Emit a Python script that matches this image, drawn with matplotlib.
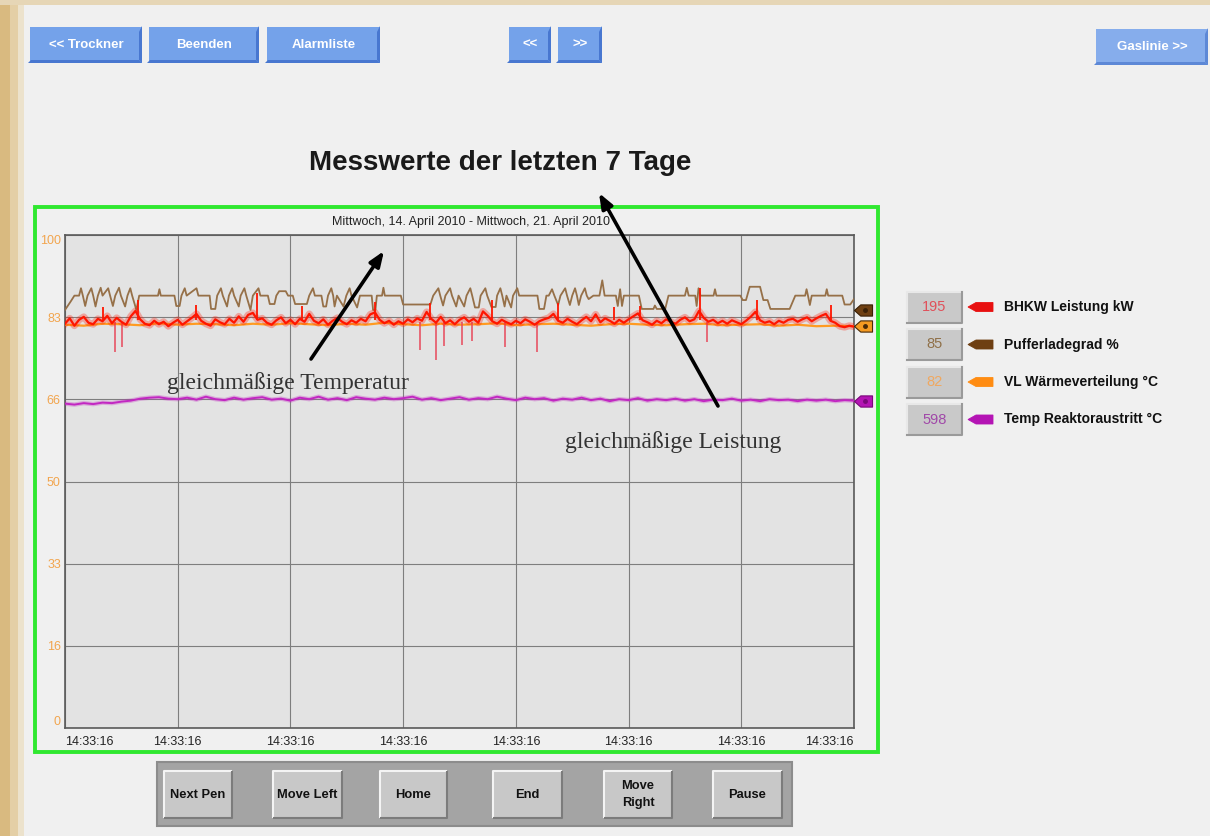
#!/usr/bin/env python3
"""Trend screen: Messwerte der letzten 7 Tage (BHKW / Puffer / VL / Reaktor)."""
import matplotlib
matplotlib.use("Agg")
import matplotlib.pyplot as plt  # noqa: E402
import numpy as np  # noqa: E402
from matplotlib.patches import Polygon, Rectangle  # noqa: E402
from matplotlib.path import Path  # noqa: E402

plt.rcParams["font.family"] = ["Liberation Sans", "DejaVu Sans"]

# ---- data, x in hours since Mittwoch 14:33:16 -------------------------------
HOURS = 168

# BHKW Leistung kW (scaled 0..100), one reading per hour
red_vals = [
    82.0, 83.1, 81.6, 82.8, 83.4, 82.2, 81.9, 83.0, 82.5, 83.6,
    82.1, 83.2, 82.4, 81.8, 83.5, 84.6, 82.9, 82.0, 81.7, 82.6,
    81.9, 82.4, 81.5, 82.2, 82.8, 81.8, 82.5, 83.2, 84.0, 82.6,
    82.0, 81.6, 82.9, 82.3, 81.9, 83.0, 82.2, 83.5, 82.4, 83.8,
    84.2, 82.8, 83.1, 82.2, 81.8, 82.7, 83.3, 82.1, 82.8, 81.9,
    83.0, 82.4, 84.0, 82.6, 82.1, 82.9, 81.8, 82.6, 83.2, 82.4,
    81.9, 82.7, 82.2, 83.0, 82.5, 83.9, 84.3, 82.8, 82.1, 82.6,
    81.8, 82.5, 82.0, 82.9, 82.3, 83.1, 82.6, 84.4, 83.0, 82.2,
    83.4, 82.1, 82.7, 81.9, 82.8, 83.3, 82.4, 83.0, 82.2, 84.5,
    83.6, 82.5, 82.0, 82.8, 82.3, 81.9, 82.6, 82.1, 82.9, 82.4,
    81.8, 82.5, 82.9, 83.2, 84.0, 82.6, 82.2, 83.0, 82.4, 81.9,
    82.7, 83.4, 82.5, 83.9, 82.3, 83.1, 82.6, 82.0, 82.8, 82.2,
    82.9, 83.5, 84.1, 82.7, 82.3, 81.8, 82.6, 82.1, 82.9, 82.4,
    82.0, 82.8, 83.3, 82.5, 82.9, 84.6, 83.2, 82.4, 82.8, 82.1,
    82.6, 82.0, 82.7, 82.3, 81.9, 82.6, 83.4, 84.4, 82.7, 82.2,
    82.5, 81.9, 82.6, 82.2, 82.8, 83.0, 82.4, 82.9, 83.3, 82.5,
    83.1, 83.6, 84.0, 82.6, 82.2, 81.5, 81.3, 81.6, 81.4,
]
# short upward / downward spikes of the BHKW pen
red_up_h = [8.0, 15.6, 27.8, 40.8, 50.5, 66.0, 77.7, 91.0, 105.0, 117.0, 122.4, 135.2, 147.3, 163.0]
red_up_v = [85.3, 86.8, 85.9, 88.2, 85.5, 86.5, 86.3, 86.8, 86.2, 85.4, 85.6, 89.2, 86.8, 85.8]
red_dip_h = [10.6, 12.1, 75.5, 78.9, 80.6, 84.5, 86.6, 93.7, 100.4, 136.6]
red_dip_v = [76.3, 77.3, 76.6, 74.7, 77.5, 77.6, 78.5, 77.3, 76.3, 78.2]

# VL Waermeverteilung, every 4 hours
orange_vals = [
    81.8, 81.6, 82.0, 81.9, 81.7, 82.1, 81.8, 82.0, 81.9, 81.7, 82.0,
    81.8, 82.1, 81.9, 81.7, 82.0, 81.8, 82.2, 81.9, 81.7, 82.0, 81.8,
    81.9, 82.1, 81.7, 81.9, 82.0, 81.8, 81.6, 81.9, 82.0, 81.8, 81.7,
    81.9, 82.0, 81.7, 81.8, 81.9, 81.6, 81.8, 81.5, 81.6, 81.5,
]

# Temp Reaktoraustritt, every 2 hours
magenta_vals = [
    65.8, 65.6, 65.9, 65.7, 66.0, 65.9, 66.2, 66.4, 66.8, 67.0,
    67.1, 66.8, 66.7, 67.0, 66.6, 67.2, 66.7, 66.5, 67.0, 66.6,
    66.9, 67.1, 66.6, 66.8, 66.4, 67.0, 66.7, 67.2, 66.6, 66.9,
    66.5, 67.1, 66.8, 66.6, 67.0, 66.7, 66.9, 67.2, 66.6, 66.9,
    66.5, 66.8, 67.1, 66.6, 66.9, 66.7, 67.2, 66.8, 66.5, 67.0,
    66.7, 66.9, 66.4, 66.8, 66.6, 67.0, 66.5, 66.8, 66.3, 66.7,
    66.5, 66.9, 66.4, 66.7, 66.5, 66.8, 66.4, 66.7, 66.3, 66.6,
    66.5, 66.8, 66.4, 66.6, 66.3, 66.7, 66.5, 66.6, 66.3, 66.6,
    66.4, 66.6, 66.3, 66.5, 66.4,
]

# Pufferladegrad, (hour, value) break points of the stepped pen
brown_steps = [
    (0, 84.8), (1.2, 86.5), (2.0, 87.7), (3.0, 87.7), (3.4, 89.2), (3.8, 87.7),
    (4.3, 85.6), (4.8, 87.7), (5.6, 89.2), (6.0, 87.7), (6.5, 85.5), (7.0, 87.7),
    (7.6, 89.3), (8.0, 87.7), (9.2, 89.2), (9.6, 87.7), (10.2, 85.6), (10.7, 87.7),
    (11.5, 89.3), (11.9, 87.7), (12.8, 85.5), (13.3, 87.7), (13.9, 89.2), (14.3, 87.7),
    (15.2, 84.8), (15.8, 87.7), (19.8, 87.7), (20.1, 89.0), (20.4, 87.7),
    (23.3, 87.7), (23.7, 85.6), (24.4, 85.6), (24.8, 87.7), (25.5, 89.2), (25.9, 87.7),
    (28.0, 89.2), (28.4, 87.7), (30.8, 87.7), (31.1, 85.0), (32.0, 85.0), (32.4, 87.7),
    (33.2, 89.2), (33.6, 87.7), (34.5, 85.5), (34.9, 87.7), (35.6, 89.2), (36.0, 87.7),
    (37.0, 85.5), (37.4, 87.7), (38.2, 89.2), (38.6, 87.7), (39.5, 84.8), (40.0, 87.7),
    (41.2, 89.2), (41.6, 87.7), (43.2, 87.7), (43.6, 86.0), (44.6, 86.0), (45.0, 87.7),
    (45.6, 88.6), (47.0, 88.6), (47.5, 87.7), (48.5, 87.7), (49.0, 86.0), (51.5, 86.0),
    (52.0, 87.7), (52.8, 89.2), (53.2, 87.7), (54.6, 87.7), (55.0, 85.5), (55.6, 85.5),
    (56.0, 87.7), (56.7, 89.2), (57.1, 87.7), (57.4, 85.5), (57.9, 87.7), (59.3, 85.5),
    (59.9, 87.7), (60.6, 89.2), (61.0, 87.7), (62.2, 85.3), (62.8, 87.7), (65.3, 87.7),
    (65.6, 84.8), (66.1, 84.8), (66.4, 87.7), (67.5, 87.7), (67.8, 89.3), (68.1, 87.7),
    (71.5, 87.7), (72.0, 85.9), (77.8, 85.9), (78.4, 87.7), (79.5, 89.2), (79.9, 87.7),
    (80.5, 85.7), (81.0, 87.7), (82.0, 89.2), (82.4, 87.7), (83.3, 85.5), (83.8, 87.7),
    (85.0, 85.5), (85.5, 87.7), (86.3, 89.2), (86.7, 87.7), (87.3, 85.3), (88.1, 85.3),
    (88.5, 87.7), (89.5, 89.2), (89.9, 87.7), (90.8, 85.4), (91.7, 85.4), (92.0, 87.7),
    (92.7, 89.2), (93.1, 87.7), (93.6, 85.5), (94.0, 87.7), (95.0, 85.3), (95.4, 87.7),
    (96.3, 89.2), (96.7, 87.7), (100.6, 87.7), (101.0, 85.0), (102.0, 85.0), (102.5, 87.7),
    (103.0, 87.7), (103.7, 89.0), (104.2, 87.7), (105.0, 85.8), (105.5, 87.7),
    (106.5, 89.2), (106.9, 87.7), (107.5, 85.8), (108.0, 87.7), (108.6, 89.2),
    (109.0, 87.7), (109.4, 85.8), (109.9, 87.7), (110.7, 89.2), (111.1, 87.7),
    (111.5, 87.0), (112.5, 87.7), (113.8, 87.7), (114.4, 90.8), (114.9, 87.7),
    (117.3, 87.7), (117.7, 85.6), (118.2, 89.0), (118.6, 85.6), (119.0, 87.7),
    (122.2, 87.7), (122.8, 85.0), (125.3, 85.0), (125.6, 85.7), (126.0, 85.0),
    (127.8, 85.0), (128.5, 87.7), (132.0, 87.7), (132.4, 89.3), (132.8, 87.7),
    (134.2, 87.7), (134.5, 85.6), (134.9, 89.2), (135.3, 87.7), (138.1, 87.7),
    (138.4, 89.0), (138.7, 87.7), (143.8, 87.7), (144.3, 86.8), (145.0, 86.8),
    (145.8, 89.5), (148.0, 89.5), (148.7, 86.8), (149.6, 86.8), (150.2, 85.0),
    (154.3, 85.0), (155.5, 87.7), (157.6, 87.7), (157.9, 89.0), (158.2, 87.7),
    (158.6, 85.8), (159.0, 87.7), (161.9, 87.7), (162.2, 89.0), (162.5, 87.7),
    (165.5, 87.7), (166.0, 85.9), (167.2, 85.9), (168.0, 87.0),
]

y_ticks = [0, 16.67, 33.33, 50, 66.67, 83.33, 100]
y_labels = ["0", "16", "33", "50", "66", "83", "100"]
x_ticks = [0, 24, 48, 72, 96, 120, 144, 168]
x_label = "14:33:16"
end_levels = [84.8, 81.5, 66.3]  # pen markers: Puffer, VL, Reaktor

legend_names = ["BHKW Leistung kW", "Pufferladegrad %", "VL Wärmeverteilung °C", "Temp Reaktoraustritt °C"]
legend_values = ["195", "85", "82", "598"]

top_buttons = ["<< Trockner", "Beenden", "Alarmliste", "<<", ">>", "Gaslinie >>"]
bottom_buttons = ["Next Pen", "Move Left", "Home", "End", "Move\nRight", "Pause"]

# ---- colours ----------------------------------------------------------------
RED = "#ff1500"
RED_DIP = "#e8485a"
ORANGE = "#ff9b22"
BROWN_LINE = "#967048"
MAGENTA = "#c227c2"
PEN_COLORS = ["#e81010", "#6e3f12", "#ff8c12", "#b414b4"]
VALUE_COLORS = ["#e0505a", "#8f7048", "#f0a860", "#a048a8"]
TICK_ORANGE = "#f2a54e"
PANEL = "#f0f0f0"


def blue_button(ax, x0, y0, x1, y1, label, face="#74a2ea", dark="#4877d0"):
    ax.add_patch(Rectangle((x0, y0), x1 - x0, y1 - y0, fc=face, ec="none"))
    ax.add_patch(Polygon([(x0 - 2, y1), (x0 + 1, y1 - 3), (x1 - 3, y1 - 3), (x1, y1)], fc=dark, ec="none"))
    ax.add_patch(Polygon([(x1 - 3, y0 + 5), (x1, y0 - 1), (x1, y1), (x1 - 3, y1 - 3)], fc=dark, ec="none"))
    ax.text((x0 + x1) / 2, (y0 + y1) / 2, label, color="white", fontsize=9.5,
            fontweight="bold", ha="center", va="center")


def gray_button(ax, x0, y0, x1, y1, label):
    ax.add_patch(Rectangle((x0, y0), x1 - x0, y1 - y0, fc="#c8c8c8", ec="none"))
    ax.plot([x0, x0, x1], [y1, y0, y0], color="#f4f4f4", lw=1.5, solid_capstyle="butt")
    ax.plot([x0, x1, x1], [y1, y1, y0], color="#7c7c7c", lw=1.5, solid_capstyle="butt")
    ax.text((x0 + x1) / 2, (y0 + y1) / 2, label, color="#111111", fontsize=9.3,
            fontweight="bold", ha="center", va="center", linespacing=1.55)


fig = plt.figure(figsize=(12.1, 8.36), dpi=100)
fig.patch.set_facecolor(PANEL)

# background layer in pixel coordinates
bg = fig.add_axes([0, 0, 1, 1], label="bg", zorder=0)
bg.set_xlim(0, 1210)
bg.set_ylim(836, 0)
bg.axis("off")

# blurred beige border of the screenshot
bg.add_patch(Rectangle((0, 0), 10, 836, fc="#d9ba80", ec="none"))
bg.add_patch(Rectangle((10, 0), 8, 836, fc="#e4cfa6", ec="none"))
bg.add_patch(Rectangle((18, 0), 6, 836, fc="#ece2cc", ec="none"))
bg.add_patch(Rectangle((0, 0), 1210, 5, fc="#e6d6b6", ec="none"))

button_boxes = [(30, 27, 142, 63), (149, 27, 259, 63), (267, 27, 380, 63),
                (509, 27, 551, 63), (558, 27, 602, 63), (1096, 29, 1208, 65)]
for (x0, y0, x1, y1), label in zip(button_boxes, top_buttons):
    if label.startswith("Gaslinie"):
        blue_button(bg, x0, y0, x1, y1, label, face="#86adec", dark="#5d88d6")
    else:
        blue_button(bg, x0, y0, x1, y1, label)

bg.text(500, 163, "Messwerte der letzten 7 Tage", fontsize=20, fontweight="bold",
        color="#1a1a1a", ha="center", va="center")

# green trend frame
bg.add_patch(Rectangle((35, 207), 843, 545, fill=False, ec="#30e830", lw=2.8))
bg.text(471, 222, "Mittwoch, 14. April 2010 - Mittwoch, 21. April 2010", fontsize=9,
        color="#222222", ha="center", va="center")

# legend of pens
for i, (name, value) in enumerate(zip(legend_names, legend_values)):
    yc = 307 + i * 37.5
    bg.add_patch(Rectangle((907, yc - 15.5), 55, 31, fc="#c9c9c9", ec="none"))
    bg.plot([907, 907, 962], [yc + 15.5, yc - 15.5, yc - 15.5], color="#e8e8e8", lw=1.5)
    bg.plot([907, 962, 962], [yc + 15.5, yc + 15.5, yc - 15.5], color="#9a9a9a", lw=1.5)
    bg.text(934.5, yc, value, color=VALUE_COLORS[i], fontsize=10.5, ha="center", va="center")
    bg.add_patch(Polygon([(968, yc), (976, yc - 4.5), (993, yc - 4.5), (993, yc + 4.5), (976, yc + 4.5)],
                         fc=PEN_COLORS[i], ec=PEN_COLORS[i], lw=0.6))
    bg.text(1004, yc, name, color="#111111", fontsize=10, fontweight="bold", ha="left", va="center")

# bottom control panel
bg.add_patch(Rectangle((157, 762), 635, 64, fc="#a4a4a4", ec="#8c8c8c", lw=1.5))
bottom_boxes = [(164, 771, 232, 818), (273, 771, 342, 818), (380, 771, 447, 818),
                (493, 771, 562, 818), (604, 771, 672, 818), (713, 771, 782, 818)]
for (x0, y0, x1, y1), label in zip(bottom_boxes, bottom_buttons):
    gray_button(bg, x0, y0, x1, y1, label)

# ---- trend axes -------------------------------------------------------------
ax = fig.add_axes([65 / 1210, (836 - 728) / 836, (854 - 65) / 1210, (728 - 235) / 836],
                  label="trend", zorder=1)
ax.set_facecolor("#e3e3e3")
ax.set_xlim(0, HOURS)
ax.set_ylim(0, 100)

red_h = np.linspace(0, HOURS, len(red_vals))
mag_h = np.linspace(0, HOURS, len(magenta_vals))
brown_h, brown_v = zip(*brown_steps)
ax.plot(brown_h, brown_v, color=BROWN_LINE, lw=1.3, zorder=3)
ax.plot(np.linspace(0, HOURS, len(orange_vals)), orange_vals, color=ORANGE, lw=1.6, zorder=3)
ax.vlines(red_dip_h, red_dip_v, 82.3, color=RED_DIP, lw=1.1, zorder=3)
ax.vlines(red_up_h, 82.8, red_up_v, color=RED, lw=1.3, zorder=4)
# fuzzy underlay gives the dense look of the sampled pen
ax.plot(red_h, red_vals, color=RED, lw=5.0, alpha=0.3, zorder=4, solid_joinstyle="round")
ax.plot(red_h, red_vals, color=RED, lw=1.6, zorder=4)
ax.plot(mag_h, magenta_vals, color=MAGENTA, lw=3.2, alpha=0.3, zorder=3)
ax.plot(mag_h, magenta_vals, color=MAGENTA, lw=1.4, zorder=3)

# pen position markers at the right edge
pen_marker = Path([(-1, 0), (-0.3, 0.62), (1, 0.62), (1, -0.62), (-0.3, -0.62), (-1, 0)])
marker_faces = ["#6e3f12", "#f59a22", "#b414b4"]
marker_edges = ["#3a2006", "#4a2a08", "#7a087a"]
for level, face, edge in zip(end_levels, marker_faces, marker_edges):
    ax.plot([HOURS + 2.0], [level], marker=pen_marker, ms=13, mfc=face, mec=edge, mew=0.8,
            clip_on=False, zorder=6)
    ax.plot([HOURS + 2.3], [level], marker="o", ms=2.5, mfc=edge, mec=edge, clip_on=False, zorder=7)

ax.set_yticks(y_ticks, y_labels)
ax.set_xticks(x_ticks, [x_label] * len(x_ticks))
ax.grid(True, color="#7e7e7e", lw=0.8)
ax.set_axisbelow(True)
ax.tick_params(axis="y", length=0, pad=3, labelsize=9, labelcolor=TICK_ORANGE)
ax.tick_params(axis="x", length=0, pad=6, labelsize=9, labelcolor="#222222")
xlabels = ax.get_xticklabels()
xlabels[0].set_ha("left")
xlabels[-1].set_ha("right")
ylabels = ax.get_yticklabels()
ylabels[0].set_va("bottom")
ylabels[-1].set_va("top")
for spine in ax.spines.values():
    spine.set_color("#5a5a5a")
    spine.set_linewidth(1.2)

# ---- overlay: hand-drawn comments -------------------------------------------
top = fig.add_axes([0, 0, 1, 1], label="overlay", zorder=2)
top.set_xlim(0, 1210)
top.set_ylim(836, 0)
top.axis("off")
top.patch.set_alpha(0)

arrow = dict(arrowstyle="-|>,head_length=0.9,head_width=0.35", color="black", lw=2.6,
             shrinkA=0, shrinkB=0)
top.annotate("", xy=(384, 251), xytext=(311, 359), arrowprops=arrow)
top.annotate("", xy=(599, 193), xytext=(718, 406), arrowprops=arrow)
top.text(167, 383, "gleichmäßige Temperatur", family=["Liberation Serif", "DejaVu Serif"],
         fontsize=17, color="#333333", ha="left", va="center")
top.text(565, 442, "gleichmäßige Leistung", family=["Liberation Serif", "DejaVu Serif"],
         fontsize=17, color="#333333", ha="left", va="center")

fig.savefig("out.png", dpi=100, facecolor=fig.get_facecolor())
